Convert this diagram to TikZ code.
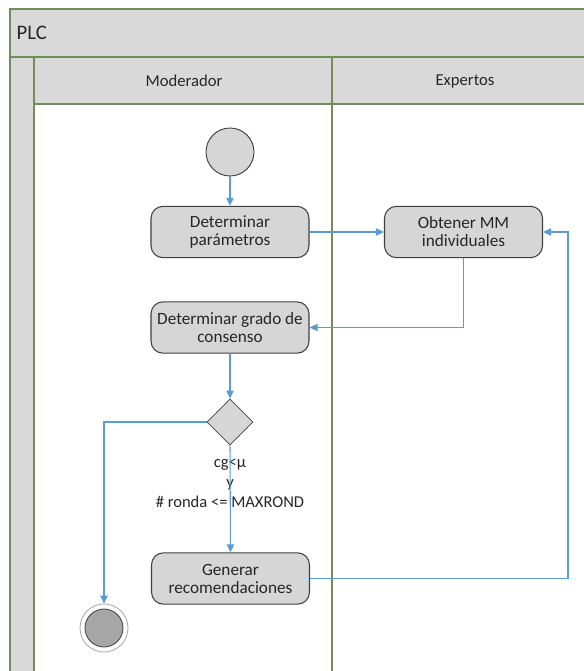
\documentclass[tikz,border=0pt]{standalone}
\usepackage{fontspec}
\setmainfont{Carlito}
\usetikzlibrary{arrows.meta,shapes.geometric}

\definecolor{lanegreen}{HTML}{738C5C}
\definecolor{lanefill}{HTML}{D9D9D9}
\definecolor{boxfill}{HTML}{D6D6D6}
\definecolor{boxline}{HTML}{404040}
\definecolor{flowblue}{HTML}{5B9BD5}
\definecolor{txt}{HTML}{262626}
\definecolor{endfill}{HTML}{A6A6A6}

\tikzset{
  lane/.style={draw=lanegreen, line width=1.1pt},
  header/.style={lane, fill=lanefill},
  action/.style={rectangle, rounded corners=9pt, draw=boxline, fill=boxfill,
    line width=0.8pt, minimum width=118.5pt, minimum height=38.5pt,
    align=center, text=txt, inner sep=1pt,
    font=\fontsize{12.9}{13.5}\selectfont},
  initial/.style={circle, draw=boxline, fill=boxfill, line width=0.7pt,
    minimum size=36pt, inner sep=0pt},
  decision/.style={diamond, draw=boxline, fill=boxfill, line width=0.6pt,
    minimum width=34.5pt, minimum height=34.5pt, inner sep=0pt, aspect=1},
  final/.style={circle, draw=gray!70, fill=white, line width=0.6pt,
    minimum size=36pt, inner sep=0pt},
  finaldot/.style={circle, draw=boxline, fill=endfill, line width=0.6pt,
    minimum size=28.5pt, inner sep=0pt},
  flow/.style={draw=flowblue, line width=0.8pt,
    -{Triangle[length=6pt,width=5.5pt]}},
  lanetitle/.style={text=txt, font=\fontsize{12.5}{14}\selectfont},
  guard/.style={text=txt, align=center, font=\fontsize{12.4}{15}\selectfont}
}

\begin{document}
\begin{tikzpicture}[x=0.75pt, y=-0.75pt]
  \useasboundingbox (0,0) rectangle (584,671);
  \begin{scope}
    \clip (0,0) rectangle (584,671);
    % swimlane pool
    \draw[header] (10,9) rectangle (620,57);
    \draw[header] (10,57) rectangle (34,700);
    \draw[header] (34,57) rectangle (332,104);
    \draw[header] (332,57) rectangle (620,104);
    \draw[lane, fill=white] (34,104) rectangle (332,700);
    \draw[lane, fill=white] (332,104) rectangle (620,700);
  \end{scope}

  \node[anchor=west, text=txt, font=\fontsize{15.5}{16}\selectfont] (pool) at (12,33) {PLC};
  \node[lanetitle] (lmod) at (184,81) {Moderador};
  \node[lanetitle] (lexp) at (465,81) {Expertos};

  % activities
  \node[initial] (start) at (230,152) {};
  \node[action] (dp) at (230,232) {Determinar\\parámetros};
  \node[action] (omm) at (463.5,232) {Obtener MM\\individuales};
  \node[action] (dg) at (230,327.5) {Determinar grado de\\consenso};
  \node[decision] (dec) at (230,422) {};
  \node[action] (gen) at (230.5,578.5) {Generar\\recomendaciones};
  \node[final] (end) at (104,628) {};
  \node[finaldot] (enddot) at (end) {};

  \node[guard] (cond) at (230,483) {cg<µ\\y\\\# ronda <= MAXROND};

  \coordinate (loop) at (568,578.5);

  % control flow
  \draw[flow] (start) -- (dp);
  \draw[flow] (dp.east) -- (omm.west);
  \draw[flow] (omm.south) |- (dg.east);
  \draw[flow] (dg.south) -- (dec.north);
  \draw[flow] (dec.south) -- (gen.north);
  \draw[flow] (dec.west) -| (end.north);
  \draw[flow] (gen.east) -- (loop) |- (omm.east);
\end{tikzpicture}
\end{document}
